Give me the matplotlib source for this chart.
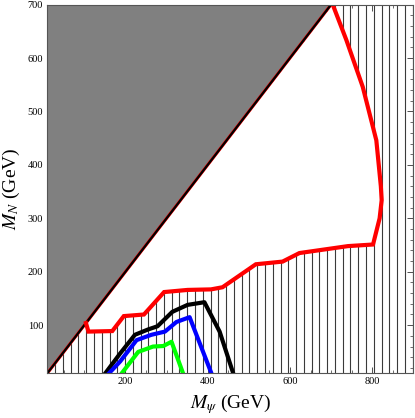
import numpy as np
import matplotlib
matplotlib.use('Agg')
import matplotlib.pyplot as plt
from matplotlib.ticker import MultipleLocator

plt.rcParams['font.family'] = ['Liberation Serif', 'DejaVu Serif']
plt.rcParams['mathtext.fontset'] = 'stix'

# excluded-region boundary (red), closed along the diagonal
red_x = [104, 110, 168, 196, 245, 294, 351, 408, 436, 517, 582, 623, 741, 802,
         818, 823, 821, 810, 777, 737, 704]
red_y = [104, 88, 89, 117, 120, 162, 166, 167, 171, 214, 219, 235, 248, 251,
         300, 334, 360, 446, 546, 634, 700]

black_x = [151, 187, 223, 255, 278, 314, 351, 392, 429, 462]
black_y = [10, 47, 82, 92, 98, 125, 138, 143, 88, 10]

blue_x = [160, 187, 227, 263, 296, 324, 356, 409]
blue_y = [10, 32, 72, 82, 88, 106, 115, 10]

green_x = [191, 231, 267, 292, 312, 340]
green_y = [10, 50, 60, 61, 69, 10]

xmin, xmax, ymin, ymax = 10, 900, 10, 700

fig = plt.figure(figsize=(4.15, 4.18), dpi=100)
ax = fig.add_axes([0.114, 0.107, 0.882, 0.882])

# vertical hatching under the diagonal
hatch = np.arange(29, xmax, 18.9)
ax.vlines(hatch, ymin, np.minimum(hatch, ymax), colors='#3a3a3a', lw=0.8, zorder=1)

# white interior of the red contour
ax.fill(red_x, red_y, color='white', zorder=2, lw=0)

# grey region M_N > M_psi
ax.fill([xmin, xmin, ymax], [ymin, ymax, ymax], color='#808080', zorder=3, lw=0)
ax.plot([xmin, ymax], [ymin, ymax], color='red', lw=2.2, zorder=4)
ax.plot([xmin, ymax], [ymin, ymax], color='black', lw=1.6, zorder=5)

ax.plot(red_x, red_y, color='#ff0000', lw=3, zorder=6, solid_joinstyle='miter')
ax.plot(black_x, black_y, color='black', lw=3, zorder=6)
ax.plot(blue_x, blue_y, color='#0000ff', lw=3, zorder=6)
ax.plot(green_x, green_y, color='#00ff00', lw=3, zorder=6)

ax.set_xlim(xmin, xmax)
ax.set_ylim(ymin, ymax)
ax.xaxis.set_major_locator(MultipleLocator(200))
ax.xaxis.set_minor_locator(MultipleLocator(50))
ax.yaxis.set_major_locator(MultipleLocator(100))
ax.yaxis.set_minor_locator(MultipleLocator(20))
ax.tick_params(which='both', direction='in', top=True, right=True,
               labelsize=7.5, colors='#333333', labelcolor='black', pad=3)
ax.tick_params(which='major', length=4, width=0.6)
ax.tick_params(which='minor', length=2, width=0.5)
for s in ax.spines.values():
    s.set_color('#555555')
    s.set_linewidth(0.8)
    s.set_zorder(7)

ax.set_xlabel(r'$M_\psi$ (GeV)', fontsize=14, labelpad=4)
ax.set_ylabel(r'$M_N$ (GeV)', fontsize=14, labelpad=4)

fig.savefig('out.png', dpi=100)
